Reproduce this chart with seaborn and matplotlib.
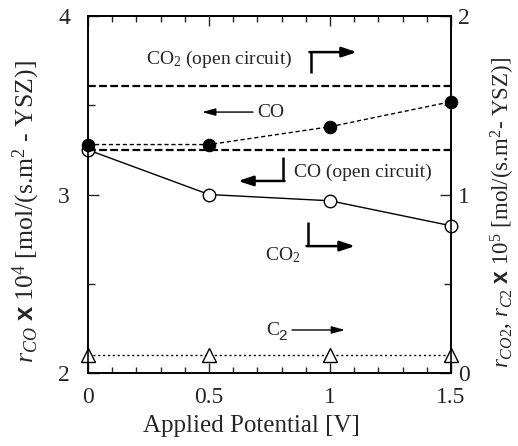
import numpy as np
import pandas as pd
import matplotlib
matplotlib.use("Agg")
import matplotlib.pyplot as plt
from matplotlib.ticker import MultipleLocator
import seaborn as sns

# Applied potential [V]
potential = [0.0, 0.5, 1.0, 1.5]
# CO formation rate (x 10^4), left axis
r_co = [3.28, 3.28, 3.38, 3.52]
# CO2 formation rate (x 10^5), right axis
r_co2 = [1.25, 1.00, 0.965, 0.825]
# C2 formation rate (x 10^5), right axis
r_c2 = [0.10, 0.10, 0.10, 0.10]
# open-circuit reference levels
co_open = 3.25    # left axis
co2_open = 1.61   # right axis

x_ticks = [0.0, 0.5, 1.0, 1.5]
x_ticklabels = ["0", "0.5", "1", "1.5"]
left_ticks = [2, 3, 4]
right_ticks = [0, 1, 2]

sns.set_style("ticks")
plt.rcParams["font.family"] = ["Liberation Serif", "DejaVu Serif"]
plt.rcParams["mathtext.fontset"] = "custom"
plt.rcParams["mathtext.rm"] = "Liberation Serif"
plt.rcParams["mathtext.it"] = "Liberation Serif:italic"
plt.rcParams["mathtext.bf"] = "Liberation Sans:bold"
plt.rcParams["mathtext.sf"] = "Liberation Sans"

fig = plt.figure(figsize=(5.18, 4.46), dpi=100)
ax = fig.add_axes([0.170, 0.1637, 0.7007, 0.8003])
ax2 = ax.twinx()

df = pd.DataFrame({"V": potential, "co": r_co, "co2": r_co2, "c2": r_c2})

# right-axis series
sns.lineplot(data=df, x="V", y="co2", ax=ax2, color="black", lw=1.0,
             linestyle="-", marker="o", markersize=9, markerfacecolor="white",
             markeredgecolor="black", markeredgewidth=1.0, clip_on=False, zorder=3)
sns.lineplot(data=df, x="V", y="c2", ax=ax2, color="black", lw=1.0,
             linestyle=(0, (1.5, 2)), marker="^", markersize=10,
             markerfacecolor="white", markeredgecolor="black",
             markeredgewidth=1.0, clip_on=False, zorder=3)
ax2.axhline(co2_open, color="black", lw=1.6, linestyle=(0, (3.5, 1.5)), zorder=2)

# left-axis series
sns.lineplot(data=df, x="V", y="co", ax=ax, color="black", lw=1.0,
             linestyle=(0, (3, 2)), marker="o", markersize=9,
             markerfacecolor="black", markeredgecolor="black",
             clip_on=False, zorder=4)
ax.axhline(co_open, color="black", lw=1.6, linestyle=(0, (3.5, 1.5)), zorder=2)

ax.set_zorder(ax2.get_zorder() + 1)
ax.patch.set_visible(False)

ax.set_xticks(x_ticks)
ax.set_xticklabels(x_ticklabels)
ax.xaxis.set_minor_locator(MultipleLocator(0.1))
ax.set_yticks(left_ticks)
ax.set_yticklabels([str(t) for t in left_ticks])
ax.yaxis.set_minor_locator(MultipleLocator(0.5))
ax2.set_yticks(right_ticks)
ax2.set_yticklabels([str(t) for t in right_ticks])
ax2.yaxis.set_minor_locator(MultipleLocator(0.5))
ax.set_xlim(0, 1.5)
ax.set_ylim(2, 4)
ax2.set_ylim(0, 2)

ax.tick_params(axis="x", which="both", direction="in", top=True, bottom=True,
               labelsize=17, pad=10)
ax.tick_params(axis="x", which="major", length=7, width=1)
ax.tick_params(axis="x", which="minor", length=4, width=1)
ax.tick_params(axis="y", which="both", direction="in", left=True, right=False,
               labelsize=17, pad=13)
ax.tick_params(axis="y", which="major", length=8, width=1)
ax.tick_params(axis="y", which="minor", length=5, width=1)
ax2.tick_params(axis="y", which="both", direction="in", right=True, left=False,
                labelsize=17, pad=5)
ax2.tick_params(axis="y", which="major", length=8, width=1)
ax2.tick_params(axis="y", which="minor", length=5, width=1)

for a in (ax, ax2):
    for s in a.spines.values():
        s.set_linewidth(1.2)
        s.set_color("black")

ax.set_xlabel("Applied Potential [V]", fontsize=18)
ax.xaxis.set_label_coords(0.45, -0.117)
ax.set_ylabel(r"$r_{CO}$ $\mathbf{x}$ 10$^4$ [mol/(s.m$^2$ - YSZ)]", fontsize=18.5)
ax.yaxis.set_label_coords(-0.127, 0.451)
ax2.set_ylabel(r"$r_{CO2}$, $r_{C2}$ $\mathbf{x}$ 10$^5$ [mol/(s.m$^2$- YSZ)]",
               fontsize=16.5, rotation=90)
ax2.yaxis.set_label_coords(1.105, 0.451)

# annotations with arrows (left-axis coordinates)
fs = 14
ax.text(0.541, 3.759, r"CO$_2$ (open circuit)", fontsize=fs, ha="center", va="center")
ax.plot([0.921, 0.921], [3.681, 3.798], color="black", lw=1.8, solid_capstyle="butt")
ax.annotate("", xy=(1.111, 3.798), xytext=(0.915, 3.798),
            arrowprops=dict(arrowstyle="-|>,head_length=0.9,head_width=0.3",
                            color="black", lw=1.8, shrinkA=0, shrinkB=0))

ax.text(0.70, 3.457, "CO", fontsize=fs, ha="left", va="center")
ax.annotate("", xy=(0.471, 3.462), xytext=(0.682, 3.462),
            arrowprops=dict(arrowstyle="-|>,head_length=0.8,head_width=0.22",
                            color="black", lw=1.0, shrinkA=0, shrinkB=0))

ax.text(0.851, 3.126, "CO (open circuit)", fontsize=fs, ha="left", va="center")
ax.plot([0.806, 0.806], [3.210, 3.076], color="black", lw=1.8, solid_capstyle="butt")
ax.annotate("", xy=(0.620, 3.076), xytext=(0.812, 3.076),
            arrowprops=dict(arrowstyle="-|>,head_length=0.9,head_width=0.3",
                            color="black", lw=1.8, shrinkA=0, shrinkB=0))

ax.text(0.806, 2.661, r"CO$_2$", fontsize=fs, ha="center", va="center")
ax.plot([0.909, 0.909], [2.846, 2.711], color="black", lw=1.8, solid_capstyle="butt")
ax.annotate("", xy=(1.103, 2.711), xytext=(0.903, 2.711),
            arrowprops=dict(arrowstyle="-|>,head_length=0.9,head_width=0.3",
                            color="black", lw=1.8, shrinkA=0, shrinkB=0))

ax.text(0.765, 2.238, "C", fontsize=fs, ha="center", va="center")
ax.text(0.805, 2.205, "2", fontsize=11, ha="center", va="center",
        family=["Liberation Sans", "DejaVu Sans"])
ax.annotate("", xy=(1.062, 2.241), xytext=(0.843, 2.241),
            arrowprops=dict(arrowstyle="-|>,head_length=0.8,head_width=0.22",
                            color="black", lw=1.0, shrinkA=0, shrinkB=0))

fig.savefig("out.png", dpi=100)
